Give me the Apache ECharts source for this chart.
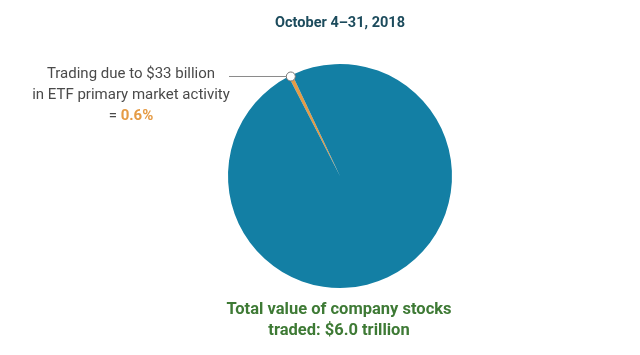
<!DOCTYPE html>
<html><head><meta charset="utf-8">
<script src="https://cdn.jsdelivr.net/npm/echarts@6/dist/echarts.min.js"></script>
<style>html,body{margin:0;padding:0;background:#fff}#c{width:640px;height:355px}</style>
</head><body><div id="c"></div>
<script>
const categories = ["Trading due to ETF primary market activity", "Other company stock trading"];
const values = [0.6, 99.4];
const titleText = "October 4–31, 2018";
const annotationLines = ["Trading due to $33 billion", "in ETF primary market activity"];
const annotationValue = "0.6%";
const totalLines = ["Total value of company stocks", "traded: $6.0 trillion"];

const FONT = "Roboto, sans-serif";
const center = [340, 176];
const radius = 112;
const total = values.reduce((a, b) => a + b, 0);
const sliceDeg = values[0] / total * 360;
const midAngle = 116.3;               // mid direction of the small slice (deg, ccw from 3 o'clock)
const startAngle = midAngle + sliceDeg / 2;
const rad = midAngle * Math.PI / 180;
const dot = [center[0] + Math.cos(rad) * (radius - 1), center[1] - Math.sin(rad) * (radius - 1)];

const chart = echarts.init(document.getElementById('c'), null, {renderer: 'canvas'});
chart.setOption({
  animation: false,
  series: [{
    type: 'pie',
    center: center,
    radius: [0, radius],
    startAngle: startAngle,
    clockwise: true,
    label: {show: false},
    labelLine: {show: false},
    silent: true,
    itemStyle: {borderWidth: 0},
    data: categories.map((c, i) => ({
      name: c, value: values[i],
      itemStyle: {color: i === 0 ? '#E59B45' : '#137FA4'}
    }))
  }],
  graphic: [
    {type: 'text', style: {x: 340, y: 23, text: titleText, textAlign: 'center', textVerticalAlign: 'middle',
      font: "bold 14.5px " + FONT, fill: '#1C4B5C'}},
    {type: 'line', shape: {x1: 229, y1: dot[1], x2: dot[0], y2: dot[1]}, style: {stroke: '#8a8a8a', lineWidth: 1}},
    {type: 'circle', shape: {cx: dot[0], cy: dot[1], r: 4.5}, style: {fill: '#fff', stroke: '#777', lineWidth: 1}, z: 10},
    {type: 'text', style: {x: 131, y: 74, text: annotationLines[0], textAlign: 'center', textVerticalAlign: 'middle',
      font: "15px " + FONT, fill: '#4a4a4a'}},
    {type: 'text', style: {x: 131, y: 95, text: annotationLines[1], textAlign: 'center', textVerticalAlign: 'middle',
      font: "15px " + FONT, fill: '#4a4a4a'}},
    {type: 'text', style: {x: 131, y: 116, text: '= {o|' + annotationValue + '}', textAlign: 'center', textVerticalAlign: 'middle',
      font: "15px " + FONT, fill: '#4a4a4a',
      rich: {o: {fontFamily: FONT, fontSize: 15, fontWeight: 'bold', fill: '#E59B45'}}}},
    {type: 'text', style: {x: 339, y: 310, text: totalLines[0], textAlign: 'center', textVerticalAlign: 'middle',
      font: "bold 16.5px " + FONT, fill: '#3E7A35'}},
    {type: 'text', style: {x: 339, y: 331, text: totalLines[1], textAlign: 'center', textVerticalAlign: 'middle',
      font: "bold 16.5px " + FONT, fill: '#3E7A35'}}
  ]
});
</script></body></html>
